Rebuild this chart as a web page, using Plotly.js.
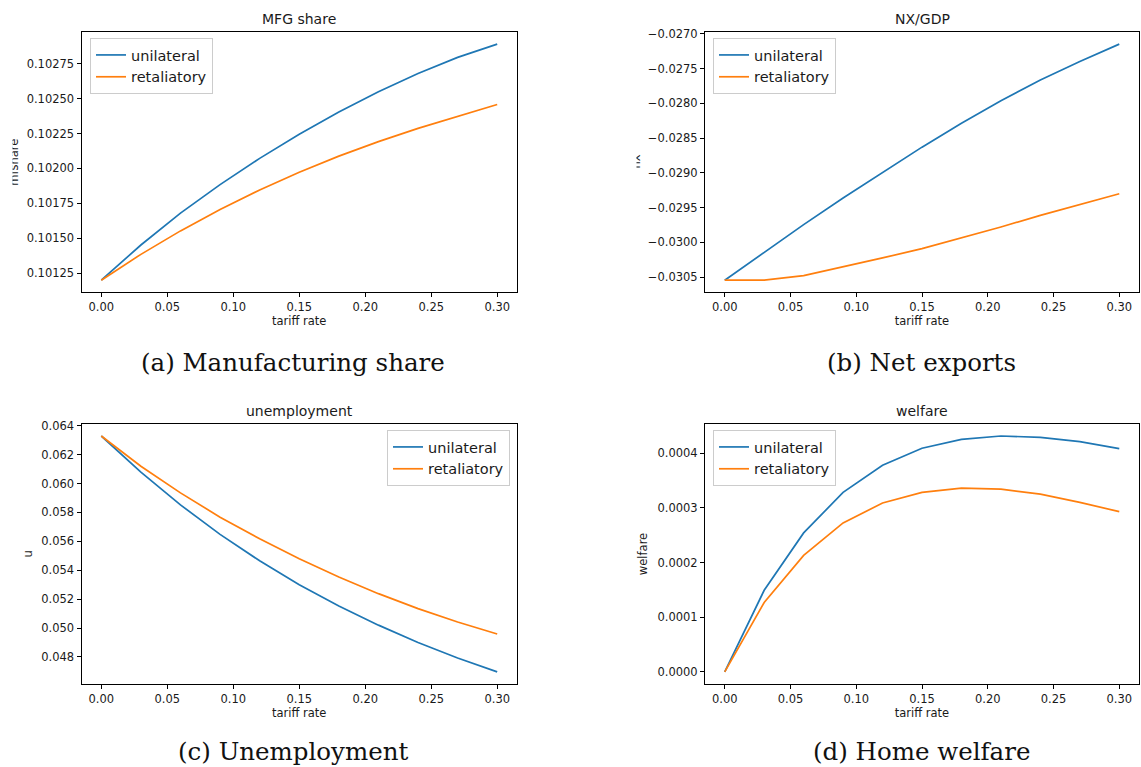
<!DOCTYPE html>
<html>
<head>
<meta charset="utf-8">
<script src="https://cdn.plot.ly/plotly-3.0.1.min.js"></script>
<style>
html,body{margin:0;padding:0;background:#ffffff;}
#chart{width:1141px;height:767px;}
</style>
</head>
<body>
<div id="chart"></div>
<script>
// ---- data ----
const tariff = [0, 0.03, 0.06, 0.09, 0.12, 0.15, 0.18, 0.21, 0.24, 0.27, 0.30];

const mfgUnilateral  = [0.101200, 0.101452, 0.101680, 0.101884, 0.102072, 0.102245, 0.102404, 0.102549, 0.102680, 0.102795, 0.102890];
const mfgRetaliatory = [0.101200, 0.101385, 0.101553, 0.101706, 0.101846, 0.101973, 0.102088, 0.102192, 0.102287, 0.102375, 0.102458];

const nxUnilateral  = [-0.030543, -0.030145, -0.029744, -0.029361, -0.028989, -0.028630, -0.028286, -0.027961, -0.027664, -0.027398, -0.027148];
const nxRetaliatory = [-0.030543, -0.030543, -0.030476, -0.030352, -0.030223, -0.030089, -0.029936, -0.029778, -0.029611, -0.029453, -0.029300];

const uUnilateral  = [0.063287, 0.060790, 0.058520, 0.056480, 0.054650, 0.053000, 0.051530, 0.050200, 0.049000, 0.047930, 0.046964];
const uRetaliatory = [0.063287, 0.061192, 0.059351, 0.057671, 0.056175, 0.054794, 0.053528, 0.052377, 0.051342, 0.050421, 0.049588];

const welfareUnilateral  = [0, 0.0001493, 0.0002543, 0.0003284, 0.0003782, 0.0004091, 0.0004255, 0.0004316, 0.0004291, 0.0004212, 0.0004085];
const welfareRetaliatory = [0, 0.0001269, 0.0002131, 0.0002725, 0.0003090, 0.0003284, 0.0003363, 0.0003344, 0.0003253, 0.0003102, 0.0002932];

const seriesNames = ['unilateral', 'retaliatory'];
const panelTitles = ['MFG share', 'NX/GDP', 'unemployment', 'welfare'];
const yLabels = ['mfshare', 'nx', 'u', 'welfare'];
const xLabel = 'tariff rate';
const captions = ['(a) Manufacturing share', '(b) Net exports', '(c) Unemployment', '(d) Home welfare'];

const xTickVals = [0, 0.05, 0.10, 0.15, 0.20, 0.25, 0.30];
const mfgTickVals = [0.10125, 0.10150, 0.10175, 0.10200, 0.10225, 0.10250, 0.10275];
const nxTickVals = [-0.0305, -0.0300, -0.0295, -0.0290, -0.0285, -0.0280, -0.0275, -0.0270];
const uTickVals = [0.048, 0.050, 0.052, 0.054, 0.056, 0.058, 0.060, 0.062, 0.064];
const welfareTickVals = [0, 0.0001, 0.0002, 0.0003, 0.0004];

// ---- layout helpers ----
const W = 1141, H = 767;
const px = v => v / W;
const py = v => 1 - v / H;
const blue = '#1f77b4', orange = '#ff7f0e';
const sans = 'DejaVu Sans, Arial, sans-serif';
const serif = 'DejaVu Serif, Liberation Serif, serif';

function padRange(a, b) {
  const lo = Math.min(...a, ...b), hi = Math.max(...a, ...b), p = (hi - lo) * 0.05;
  return [lo - p, hi + p];
}
const xPad = (xTickVals[xTickVals.length - 1] - xTickVals[0]) * 0.05;

const common = {
  showline: true, linecolor: '#000', linewidth: 1, mirror: true,
  ticks: 'outside', ticklen: 4, tickwidth: 1, tickcolor: '#000',
  showgrid: false, zeroline: false,
  tickfont: {family: sans, size: 11.5, color: '#1a1a1a'}
};
function xAxis(domain, anchor) {
  return Object.assign({}, common, {
    domain, anchor,
    range: [tariff[0] - xPad, tariff[tariff.length - 1] + xPad],
    tickmode: 'array', tickvals: xTickVals, tickformat: '.2f',
    title: {text: xLabel, font: {family: sans, size: 11.5, color: '#1a1a1a'}, standoff: 4}
  });
}
function yAxis(domain, anchor, range, vals, fmt, title, standoff) {
  const ax = Object.assign({}, common, {
    domain, anchor, range,
    tickmode: 'array', tickvals: vals, tickformat: fmt
  });
  if (title) ax.title = {text: title, font: {family: sans, size: 11.5, color: '#1a1a1a'}, standoff: standoff};
  return ax;
}

const colL = [px(81.5), px(517)];
const colR = [px(705), px(1139)];
const rowT = [py(292), py(32.3)];
const rowB = [py(683.7), py(424.2)];

function pair(ax, ay, leg, u, r) {
  return [
    {x: tariff, y: u, type: 'scatter', mode: 'lines', name: seriesNames[0], xaxis: ax, yaxis: ay,
     legend: leg, legendgroup: leg + 'u', line: {color: blue, width: 1.7}},
    {x: tariff, y: r, type: 'scatter', mode: 'lines', name: seriesNames[1], xaxis: ax, yaxis: ay,
     legend: leg, legendgroup: leg + 'r', line: {color: orange, width: 1.7}}
  ];
}

const data = [].concat(
  pair('x', 'y', 'legend', mfgUnilateral, mfgRetaliatory),
  pair('x2', 'y2', 'legend2', nxUnilateral, nxRetaliatory),
  pair('x3', 'y3', 'legend3', uUnilateral, uRetaliatory),
  pair('x4', 'y4', 'legend4', welfareUnilateral, welfareRetaliatory)
);

function legendAt(x, y, xanchor) {
  return {
    x, y, xanchor, yanchor: 'top', xref: 'paper', yref: 'paper',
    bgcolor: 'rgba(255,255,255,0.85)', bordercolor: '#cccccc', borderwidth: 1,
    font: {family: sans, size: 14.5, color: '#1a1a1a'},
    tracegroupgap: 0, traceorder: 'grouped'
  };
}

const annotations = [];
// panel titles
[['x', 'y'], ['x2', 'y2'], ['x3', 'y3'], ['x4', 'y4']].forEach((p, i) => {
  annotations.push({
    text: panelTitles[i], xref: p[0] + ' domain', yref: p[1] + ' domain', x: 0.5, y: 1,
    xanchor: 'center', yanchor: 'bottom', yshift: 3, showarrow: false,
    font: {family: sans, size: 14, color: '#1a1a1a'}
  });
});
// partially cropped y labels of panels (a) and (b)
annotations.push({text: yLabels[0], xref: 'paper', yref: 'paper', x: px(13.8), y: py(162),
  xanchor: 'center', yanchor: 'middle', textangle: -90, showarrow: false,
  font: {family: sans, size: 11.5, color: '#1a1a1a'}});
annotations.push({text: ' ', xref: 'paper', yref: 'paper', x: 0, y: py(162), xanchor: 'left', yanchor: 'middle',
  width: 11, height: 90, bgcolor: '#ffffff', borderpad: 0, showarrow: false});
annotations.push({text: yLabels[1], xref: 'paper', yref: 'paper', x: px(635.5), y: py(162),
  xanchor: 'center', yanchor: 'middle', textangle: -90, showarrow: false,
  font: {family: sans, size: 11.5, color: '#1a1a1a'}});
annotations.push({text: ' ', xref: 'paper', yref: 'paper', x: px(620), y: py(162), xanchor: 'left', yanchor: 'middle',
  width: 14.5, height: 60, bgcolor: '#ffffff', borderpad: 0, showarrow: false});
// captions
const capPos = [[292.5, 362], [921, 362], [292.5, 751.5], [921, 751.5]];
captions.forEach((c, i) => {
  annotations.push({text: c, xref: 'paper', yref: 'paper', x: px(capPos[i][0]), y: py(capPos[i][1]),
    xanchor: 'center', yanchor: 'middle', showarrow: false,
    font: {family: serif, size: 24.5, color: '#111'}});
});

const layout = {
  width: W, height: H,
  margin: {l: 0, r: 0, t: 0, b: 0},
  paper_bgcolor: '#ffffff', plot_bgcolor: '#ffffff',
  font: {family: sans, color: '#1a1a1a'},
  showlegend: true,
  xaxis: xAxis(colL, 'y'),
  yaxis: yAxis(rowT, 'x', padRange(mfgUnilateral, mfgRetaliatory), mfgTickVals, '.5f'),
  xaxis2: xAxis(colR, 'y2'),
  yaxis2: yAxis(rowT, 'x2', padRange(nxUnilateral, nxRetaliatory), nxTickVals, '.4f'),
  xaxis3: xAxis(colL, 'y3'),
  yaxis3: yAxis(rowB, 'x3', padRange(uUnilateral, uRetaliatory), uTickVals, '.3f', yLabels[2], 6),
  xaxis4: xAxis(colR, 'y4'),
  yaxis4: yAxis(rowB, 'x4', padRange(welfareUnilateral, welfareRetaliatory), welfareTickVals, '.4f', yLabels[3], 7),
  legend: legendAt(px(90), py(38), 'left'),
  legend2: legendAt(px(713), py(38), 'left'),
  legend3: legendAt(px(510), py(430), 'right'),
  legend4: legendAt(px(713), py(430), 'left'),
  annotations
};

Plotly.newPlot('chart', data, layout, {displayModeBar: false, staticPlot: true});
</script>
</body>
</html>
